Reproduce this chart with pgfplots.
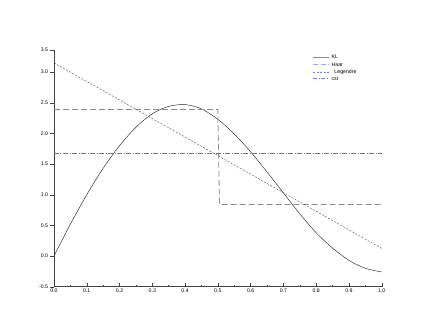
\documentclass[border=0pt]{standalone}
\usepackage{fontspec}
\setmainfont{Liberation Sans}
\usepackage{pgfplots}
\pgfplotsset{compat=1.18}
\definecolor{legblue}{RGB}{125,125,255}
\definecolor{legblue2}{RGB}{165,165,255}

\begin{document}
\fontsize{5}{6}\selectfont
\begin{tikzpicture}
\begin{axis}[
    name=ax,
    scale only axis,
    width=327.7pt,
    height=236.7pt,
    xmin=0, xmax=1,
    ymin=-0.5, ymax=3.36,
    axis lines*=left,
    axis line style={black!75, line width=0.5pt, -},
    xtick={0,0.1,...,1.0},
    xticklabels={0.0,0.1,0.2,0.3,0.4,0.5,0.6,0.7,0.8,0.9,1.0},
    minor xtick={0.05,0.15,...,0.95},
    ytick={-0.5,0,0.5,1,1.5,2,2.5,3,3.36},
    yticklabels={-0.5,0.0,0.5,1.0,1.5,2.0,2.5,3.0,3.5},
    x tick style={black!75, line width=0.4pt},
    y tick style={black!75, line width=0.4pt},
    xtick align=inside,
    ytick align=outside,
    major tick length=3.5pt,
    minor tick length=2pt,
    tick label style={font=\fontsize{5.2}{6}\selectfont},
    xticklabel style={yshift=-0.5pt},
    yticklabel style={xshift=-0.5pt},
    clip=false,
    legend style={at={(0.78,0.995)}, anchor=north west, draw=none, fill=none,
        font=\fontsize{5.2}{6}\selectfont, row sep=-1.2pt,
        legend cell align=left},
]
% legend samples (drawn in blue in the reference)
\addlegendimage{legend image code/.code={\draw[draw=legblue, line width=0.6pt] (0pt,0.3pt) -- (16pt,0.3pt);}}
\addlegendentry{KL}
\addlegendimage{legend image code/.code={\draw[draw=legblue2, line width=0.8pt, dash pattern=on 5pt off 2.5pt] (0pt,0pt) -- (16pt,0pt);}}
\addlegendentry{Haar}
\addlegendimage{legend image code/.code={\draw[draw=legblue, line width=0.55pt, dash pattern=on 2pt off 1.5pt] (0pt,0pt) -- (16pt,0pt);}}
\addlegendentry{\ \ Legendre}
\addlegendimage{legend image code/.code={\draw[draw=legblue, line width=0.6pt, dash pattern=on 4pt off 1.5pt on 1pt off 1.5pt] (0pt,0.3pt) -- (16pt,0.3pt);}}
\addlegendentry{cst}

% KL approximation
\addplot[forget plot, black!85, line width=0.45pt, smooth] coordinates {
    (0.00,0.00) (0.05,0.52) (0.10,1.00) (0.15,1.43) (0.20,1.80)
    (0.25,2.10) (0.30,2.32) (0.35,2.44) (0.40,2.47) (0.45,2.40)
    (0.50,2.23) (0.55,1.99) (0.60,1.70) (0.65,1.37) (0.70,1.03)
    (0.75,0.69) (0.80,0.38) (0.85,0.13) (0.90,-0.07) (0.95,-0.20)
    (1.00,-0.26)
};
% Haar
\addplot[forget plot, black!45, line width=0.8pt, dash pattern=on 6pt off 3pt] coordinates {
    (0.00,2.39) (0.50,2.39) (0.505,0.84) (1.00,0.84)
};
% Legendre
\addplot[forget plot, black!65, line width=0.45pt, dash pattern=on 2pt off 1.5pt] coordinates {
    (0.00,3.15) (1.00,0.125)
};
% cst
\addplot[forget plot, black!55, line width=0.35pt, dash pattern=on 5pt off 1.5pt on 1pt off 1.5pt] coordinates {
    (0.00,1.67) (1.00,1.67)
};
\end{axis}
\path[use as bounding box] ([shift={(-54pt,-40.3pt)}]ax.south west) rectangle ([shift={(54.3pt,50pt)}]ax.north east);
\end{tikzpicture}
\end{document}
